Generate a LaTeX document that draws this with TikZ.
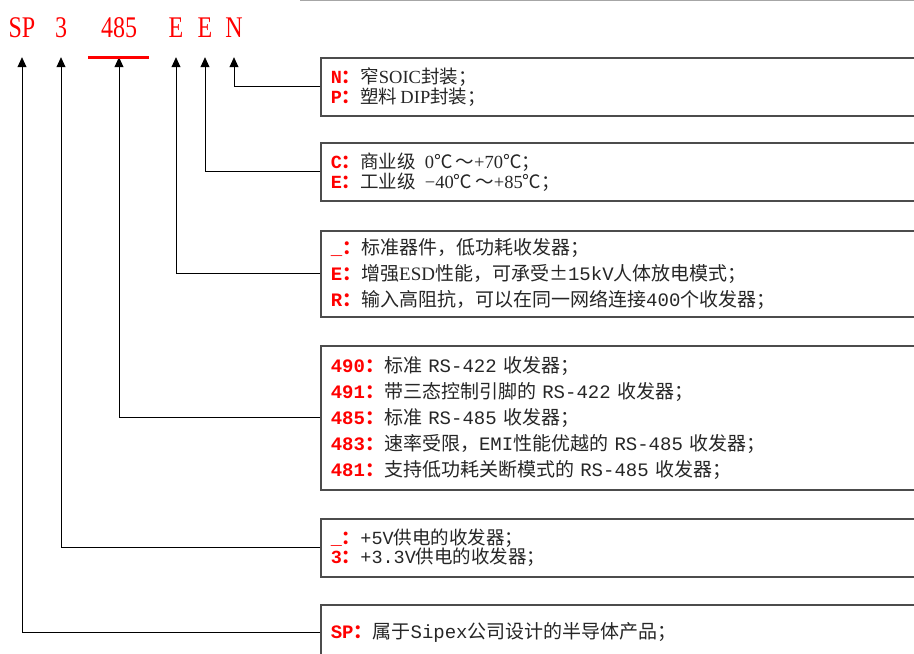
\documentclass[tikz,border=0pt]{standalone}
\usepackage{fontspec}
\setmainfont{Liberation Serif}
\newfontfamily\cjk{Noto Sans CJK SC}
\newfontfamily\monofont{Liberation Mono}
\newfontfamily\hdrfont[FakeStretch=0.8]{Liberation Serif}
\usetikzlibrary{arrows.meta}

\newcommand\zh[1]{{\cjk #1}}
\newcommand\mono[1]{{\monofont #1}}
\newcommand\lbl[1]{{\color{red}\monofont\bfseries #1\cjk\bfseries ：}}

\tikzset{
  codeletter/.style={text=red, font=\hdrfont\fontsize{30}{30}\selectfont, anchor=base, inner sep=0pt, text depth=0pt},
  infobox/.style={draw=black!70, line width=1.6pt, anchor=north west, minimum width=620pt, text width=600pt, inner xsep=10pt, align=left, text=black!85},
  leader/.style={-{Triangle[length=10pt,width=9pt]}, line width=0.8pt, shorten >=20pt},
}

\begin{document}
\begin{tikzpicture}[x=1pt,y=-1pt]
  \useasboundingbox (0,0) rectangle (914,654);
  \clip (0,0) rectangle (914,654);

  % part number
  \node[codeletter] (sp) at (22,37) {SP};
  \node[codeletter] (volt) at (61,37) {3};
  \node[codeletter] (num) at (119,37) {485};
  \node[codeletter] (esd) at (176,37) {E};
  \node[codeletter] (temp) at (205,37) {E};
  \node[codeletter] (pkg) at (234,37) {N};

  \draw[black!35, line width=1.5pt] (300,0) -- (930,0);

  % explanation boxes
  \node[infobox, minimum height=58pt, font=\fontsize{18.5}{20}\selectfont] (pkgbox) at (320,57)
    {\lbl{N}\zh{窄}SOIC\zh{封装；}\\
     \lbl{P}\zh{塑料}\,DIP\zh{封装；}};
  \node[infobox, minimum height=58pt, font=\fontsize{18.5}{20}\selectfont] (tempbox) at (320,142)
    {\lbl{C}\zh{商业级}\hspace{9pt}0\zh{℃\,～}+70\zh{℃；}\\
     \lbl{E}\zh{工业级}\hspace{9pt}−40\zh{℃\,～}+85\zh{℃；}};
  \node[infobox, minimum height=86pt, font=\fontsize{19}{26}\selectfont] (esdbox) at (320,230)
    {\lbl{\_}\zh{标准器件，低功耗收发器；}\\
     \lbl{E}\zh{增强}ESD\zh{性能，可承受±}\mono{15kV}\zh{人体放电模式；}\\
     \lbl{R}\zh{输入高阻抗，可以在同一网络连接}\mono{400}\zh{个收发器；}};
  \node[infobox, minimum height=144pt, font=\fontsize{19}{26}\selectfont] (typebox) at (320,345)
    {\lbl{490}\zh{标准} \mono{RS-422} \zh{收发器；}\\
     \lbl{491}\zh{带三态控制引脚的} \mono{RS-422} \zh{收发器；}\\
     \lbl{485}\zh{标准} \mono{RS-485} \zh{收发器；}\\
     \lbl{483}\zh{速率受限，}\mono{EMI}\zh{性能优越的} \mono{RS-485} \zh{收发器；}\\
     \lbl{481}\zh{支持低功耗关断模式的} \mono{RS-485} \zh{收发器；}};
  \node[infobox, minimum height=58pt, font=\fontsize{18.5}{19}\selectfont] (voltbox) at (320,518)
    {\lbl{\_}\mono{+5V}\zh{供电的收发器；}\\
     \lbl{3}\mono{+3.3V}\zh{供电的收发器；}};
  \node[infobox, minimum height=56pt, font=\fontsize{19}{20}\selectfont] (mfrbox) at (320,604)
    {\lbl{SP}\zh{属于}\mono{Sipex}\zh{公司设计的半导体产品；}};

  % leaders
  \draw[leader] (pkgbox.west) -| (pkg.south);
  \draw[leader] (tempbox.west) -| (temp.south);
  \draw[leader] (esdbox.west) -| (esd.south);
  \draw[leader] (typebox.west) -| (num.south);
  \draw[leader] (voltbox.west) -| (volt.south);
  \draw[leader] (mfrbox.west) -| (sp.south);

  \draw[red, line width=3pt] (88,57) -- (149,57);
\end{tikzpicture}
\end{document}
